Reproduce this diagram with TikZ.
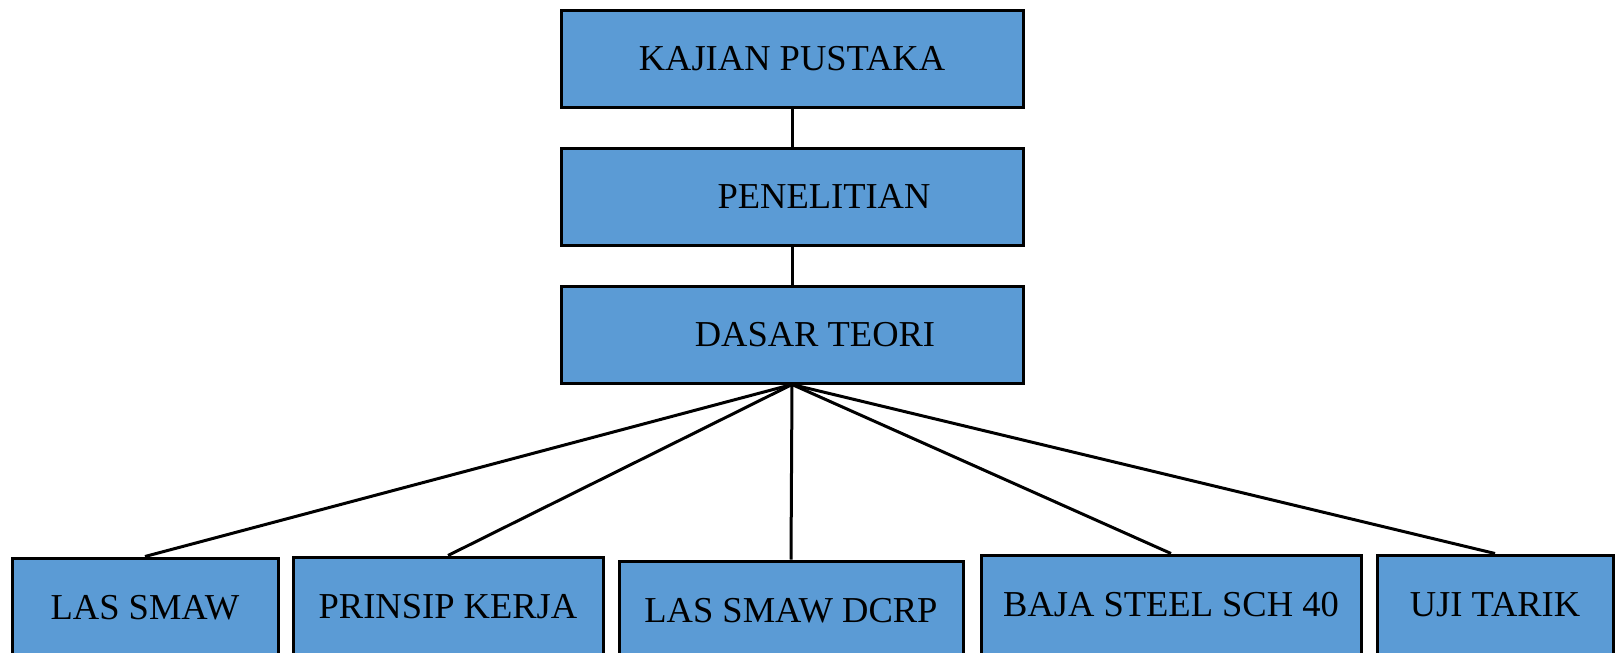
\documentclass[tikz,border=0pt]{standalone}
\usepackage{fontspec}
\setmainfont{Liberation Serif}
\usetikzlibrary{positioning}
\definecolor{BoxBlue}{RGB}{91,155,213}

\begin{document}
\begin{tikzpicture}[
    x=1pt, y=-1pt,
    node distance=38pt, % gap between the stacked boxes
    basebox/.style={
      rectangle,
      draw=black,
      fill=BoxBlue,
      line width=3pt,
      inner sep=0pt,
      minimum height=97pt,
      font=\fontsize{36.5}{40}\selectfont
    },
    topbox/.style={basebox, minimum width=462pt},
    subbox/.style={basebox, minimum height=100pt},
    link/.style={line width=3pt, draw=black}
  ]

    % Frame (the lower boxes run off the bottom edge)
    \clip (0,0) rectangle (1615,653);

    % Main column
    \node[topbox] (kajian) at (792,58.5) {KAJIAN PUSTAKA};
    \node[topbox, below=of kajian] (penelitian) {\hspace*{64pt}PENELITIAN};
    \node[topbox, below=of penelitian] (dasar) {\hspace*{46pt}DASAR TEORI};

    % Sub topics
    \node[subbox, minimum width=266pt] (smaw)  at (145,608)  {LAS SMAW};
    \node[subbox, minimum width=310pt] (prinsip) at (448,607) {PRINSIP KERJA};
    \node[subbox, minimum width=344pt] (dcrp)  at (791,611)  {LAS SMAW DCRP};
    \node[subbox, minimum width=380pt] (baja)  at (1171,605) {BAJA STEEL SCH 40};
    \node[subbox, minimum width=236pt] (uji)   at (1495,605) {UJI TARIK};

    % Connectors
    \draw[link] (kajian) -- (penelitian);
    \draw[link] (penelitian) -- (dasar);
    \draw[link] (dasar.south) -- (smaw.north);
    \draw[link] (dasar.south) -- (prinsip.north);
    \draw[link] (dasar.south) -- (dcrp.north);
    \draw[link] (dasar.south) -- (baja.north);
    \draw[link] (dasar.south) -- (uji.north);

  \end{tikzpicture}
\end{document}
